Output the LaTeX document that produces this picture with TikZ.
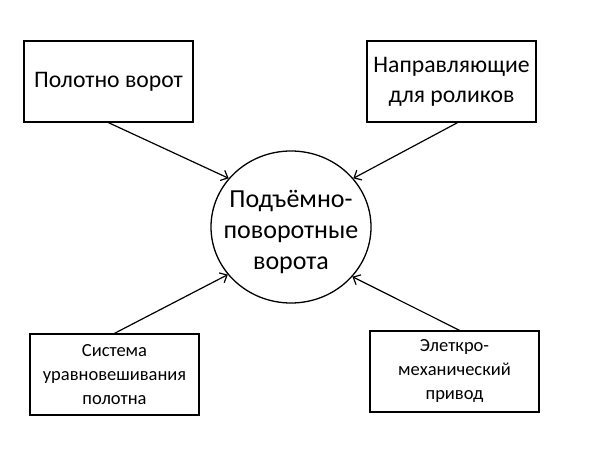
\documentclass[tikz,border=0pt]{standalone}
\usepackage{fontspec}
\setmainfont{Carlito}
\usetikzlibrary{arrows.meta,shapes.geometric}
\begin{document}
\begin{tikzpicture}[x=1bp,y=-1bp,
  box/.style={draw,line width=1.3bp,minimum width=169bp,minimum height=81bp,inner sep=0pt,align=center},
  bigtxt/.style={font=\fontsize{23.7bp}{30bp}\selectfont},
  smalltxt/.style={font=\fontsize{18.5bp}{24bp}\selectfont},
  hub/.style={draw,ellipse,line width=1.3bp,minimum width=160bp,minimum height=152bp,inner sep=0pt},
  hubtxt/.style={align=center,inner sep=0pt,font=\fontsize{26bp}{31bp}\selectfont},
  arr/.style={line width=1.2bp,-{Straight Barb[length=6bp,width=11bp]}}]
\useasboundingbox (0,0) rectangle (600,450);
\fill[white] (0,0) rectangle (600,450);
\node[box,bigtxt] (b1) at (108.5,81.5) {Полотно ворот};
\node[box,bigtxt] (b2) at (451.5,81.5) {Направляющие\\для роликов};
\node[box,smalltxt] (b3) at (114.5,374.5) {Система\\уравновешивания\\полотна};
\node[box,smalltxt] (b4) at (454.5,371.5) {Элеткро-\\механический\\привод};
\node[hub] (c) at (291,227) {};
\node[hubtxt] (ct) at (291,232) {Подъёмно-\\поворотные\\ворота};
\draw[arr] (b1.south) -- (c.142);
\draw[arr] ([xshift=6bp]b2.south) -- (c.38);
\draw[arr] (b3.north) -- (c.217);
\draw[arr] ([xshift=5bp]b4.north) -- (c.321);
\end{tikzpicture}
\end{document}
